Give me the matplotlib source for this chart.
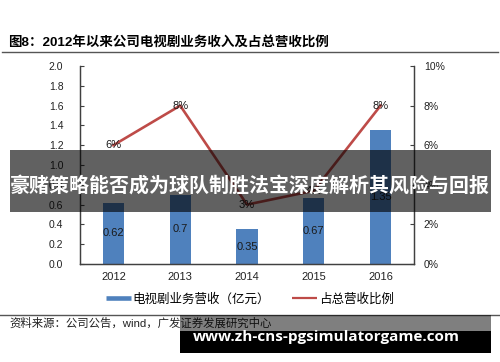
import matplotlib
matplotlib.use("Agg")
import matplotlib.pyplot as plt
from matplotlib.patches import Rectangle
from matplotlib.lines import Line2D
from matplotlib.ticker import PercentFormatter, FormatStrFormatter

plt.rcParams['font.family'] = ['Liberation Sans', 'Noto Sans CJK SC']

years = ['2012', '2013', '2014', '2015', '2016']
revenue = [0.62, 0.70, 0.35, 0.67, 1.35]
share = [0.06, 0.08, 0.03, 0.037, 0.08]
share_labels = ['6%', '8%', '3%', '4%', '8%']

title = '图8：2012年以来公司电视剧业务收入及占总营收比例'
bar_name = '电视剧业务营收（亿元）'
line_name = '占总营收比例'
source = '资料来源：公司公告，wind，广发证券发展研究中心'
banner = '豪赌策略能否成为球队制胜法宝深度解析其风险与回报'
url = 'www.zh-cns-pgsimulatorgame.com'

BLUE = '#4F81BD'
RED = '#BE4B48'
W, H = 500, 362

def fx(x):
    return x / W

def fy(y):
    return 1 - y / H

fig = plt.figure(figsize=(5, 3.62), dpi=100)
ax = fig.add_axes([fx(80), fy(264), fx(414) - fx(80), fy(66) - fy(264)])
ax2 = ax.twinx()

x = list(range(len(years)))
bars = ax.bar(x, revenue, width=0.32, color=BLUE, zorder=2)
ax.bar_label(bars, labels=[f'{v:g}' for v in revenue], label_type='center',
             fontsize=8, color='#1a1a1a')
ax.set_ylim(0, 2.0)
ax.set_yticks([i * 0.2 for i in range(11)])
ax.yaxis.set_major_formatter(FormatStrFormatter('%.1f'))
ax.set_xlim(-0.5, len(years) - 0.5)
ax.set_xticks(x)
ax.set_xticklabels(years)

ax2.plot(x, share, color=RED, lw=1.9, zorder=3)
for xi, v, lab in zip(x, share, share_labels):
    ax2.text(xi, v, lab, ha='center', va='center', fontsize=8, color='#1a1a1a')
ax2.set_ylim(0, 0.10)
ax2.set_yticks([i * 0.02 for i in range(6)])
ax2.yaxis.set_major_formatter(PercentFormatter(1.0, decimals=0))

for a in (ax, ax2):
    a.spines['top'].set_visible(False)
    for s in ('left', 'right', 'bottom'):
        a.spines[s].set_color('#404040')
        a.spines[s].set_linewidth(0.9)
ax.tick_params(axis='y', direction='in', length=3, pad=12, labelsize=7.5,
               colors='#404040', labelcolor='#222222')
ax.tick_params(axis='x', direction='in', length=3, pad=6, labelsize=8,
               colors='#404040', labelcolor='#222222')
ax2.tick_params(axis='y', direction='in', length=3, pad=7, labelsize=7.5,
                colors='#404040', labelcolor='#222222')

handles = [Line2D([], [], color=BLUE, lw=3.3, solid_capstyle='butt'),
           Line2D([], [], color=RED, lw=1.6, solid_capstyle='butt')]
fig.legend(handles, [bar_name, line_name], loc='center',
           bbox_to_anchor=(fx(250), fy(299)), ncol=2, frameon=False,
           handlelength=2.0, handletextpad=0.15, columnspacing=1.75,
           prop={'family': ['Noto Sans CJK SC'], 'size': 9})

fig.text(fx(8), fy(42), title, ha='left', va='center', fontsize=9.7,
         fontweight='bold', family=['Liberation Sans', 'Noto Sans CJK SC'])
fig.add_artist(Line2D([fx(2), fx(498)], [fy(51.5), fy(51.5)], color='#555555',
                      lw=1.0, transform=fig.transFigure))
fig.add_artist(Line2D([fx(0), fx(500)], [fy(315), fy(315)], color='#555555',
                      lw=1.0, transform=fig.transFigure))
fig.text(fx(9), fy(323), source, ha='left', va='center', fontsize=8.2,
         color='#222222', family=['Liberation Sans', 'Noto Sans CJK SC'])

# banner overlay
fig.add_artist(Rectangle((fx(10), fy(212)), fx(491) - fx(10), fy(150) - fy(212),
                         transform=fig.transFigure, color='black', alpha=0.62,
                         lw=0, zorder=10))
fig.text(fx(250), fy(185), banner, ha='center', va='center', fontsize=14.4,
         fontweight='bold', color='white', family=['Noto Sans CJK SC'], zorder=11)

# url watermark
fig.add_artist(Rectangle((fx(180), fy(331)), fx(491) - fx(180), fy(315) - fy(331),
                         transform=fig.transFigure, color='black', alpha=0.5,
                         lw=0, zorder=10))
fig.add_artist(Rectangle((fx(180), fy(353)), fx(491) - fx(180), fy(331) - fy(353),
                         transform=fig.transFigure, color='black',
                         lw=0, zorder=10))
fig.text(fx(326), fy(337), url, ha='center', va='center', fontsize=11.0,
         fontweight='bold', color='white', family=['Open Sans'], zorder=11)

fig.savefig('out.png', dpi=100)
